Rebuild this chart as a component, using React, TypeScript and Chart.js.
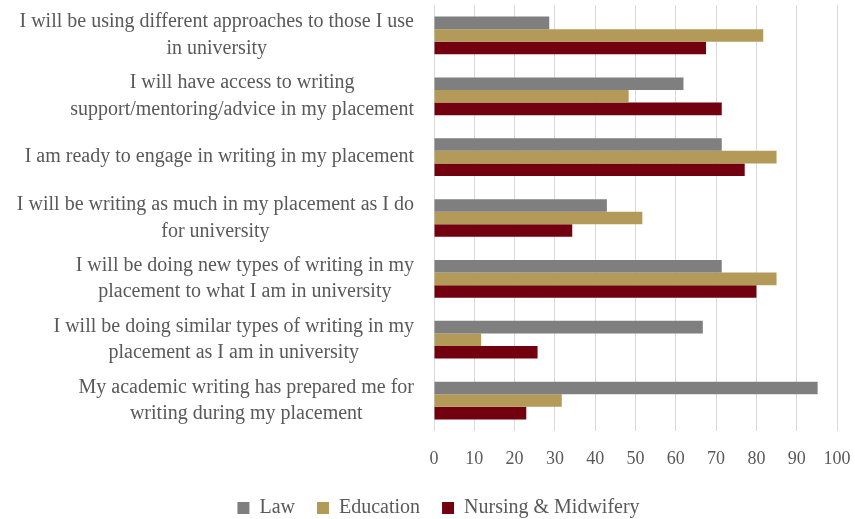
import React, { useEffect, useRef } from "react";
import { Chart, registerables } from "chart.js";

Chart.register(...registerables);

const categories: string[][] = [
  ["I will be using different approaches to those I use", "in university"],
  ["I will have access to writing", "support/mentoring/advice in my placement"],
  ["I am ready to engage in writing in my placement"],
  ["I will be writing as much in my placement as I do", "for university"],
  ["I will be doing new types of writing in my", "placement to what I am in university"],
  ["I will be doing similar types of writing in my", "placement as I am in university"],
  ["My academic writing has prepared me for", "writing during my placement"],
];

const seriesNames = ["Law", "Education", "Nursing & Midwifery"];
const law = [28.6, 61.9, 71.4, 42.9, 71.4, 66.7, 95.2];
const education = [81.7, 48.3, 85.0, 51.7, 85.0, 11.7, 31.7];
const nursing = [67.5, 71.4, 77.1, 34.3, 80.0, 25.7, 22.9];
const xTicksMax = 100;
const xTickStep = 10;

const FONT = '"Liberation Serif", "Times New Roman", serif';
const TEXT = "#595959";

const yLabelPlugin = {
  id: "yLabelBlocks",
  afterDraw(chart: any) {
    const ctx = chart.ctx;
    const y = chart.scales.y;
    const right = chart.chartArea.left - 20;
    const lineH = 26.5;
    ctx.save();
    ctx.font = `20px ${FONT}`;
    ctx.fillStyle = TEXT;
    ctx.textAlign = "center";
    ctx.textBaseline = "middle";
    categories.forEach((lines, i) => {
      const cy = y.getPixelForValue(i);
      const maxW = Math.max(...lines.map((l) => ctx.measureText(l).width));
      const cx = right - maxW / 2;
      lines.forEach((l, j) => {
        ctx.fillText(l, cx, cy + (j - (lines.length - 1) / 2) * lineH);
      });
    });
    ctx.restore();
  },
};

export default function App() {
  const ref = useRef<HTMLCanvasElement>(null);
  useEffect(() => {
    if (!ref.current) return;
    const chart = new Chart(ref.current, {
      type: "bar",
      data: {
        labels: categories.map((c) => c.join(" ")),
        datasets: [
          { label: seriesNames[0], data: law, backgroundColor: "#7f7f7f" },
          { label: seriesNames[1], data: education, backgroundColor: "#b39a58" },
          { label: seriesNames[2], data: nursing, backgroundColor: "#72000f" },
        ].map((d) => ({ ...d, barPercentage: 1, categoryPercentage: 0.62, borderWidth: 0 })),
      },
      options: {
        indexAxis: "y",
        animation: false,
        responsive: true,
        maintainAspectRatio: false,
        layout: { padding: { left: 40, top: 5, right: 18, bottom: -9 } },
        scales: {
          x: {
            min: 0,
            max: xTicksMax,
            ticks: { stepSize: xTickStep, color: TEXT, font: { family: FONT, size: 18 }, padding: 17 },
            grid: { color: "#d9d9d9", drawTicks: false },
            border: { display: false },
            afterFit: (scale: any) => {
              scale.height = 45;
              scale.paddingRight = 0;
              scale.paddingLeft = 0;
            },
          },
          y: {
            ticks: { display: false },
            grid: { display: false },
            border: { display: false },
            afterFit: (scale: any) => {
              scale.width = 394;
            },
          },
        },
        plugins: {
          legend: {
            position: "bottom",
            labels: {
              boxWidth: 12,
              boxHeight: 12,
              color: TEXT,
              font: { family: FONT, size: 20 },
              padding: 22,
            },
          },
          tooltip: { enabled: false },
        },
      },
      plugins: [yLabelPlugin],
    });
    return () => chart.destroy();
  }, []);
  return (
    <div style={{ position: "absolute", left: 0, top: 0, width: 855, height: 519, background: "#fff" }}>
      <canvas ref={ref} />
    </div>
  );
}
